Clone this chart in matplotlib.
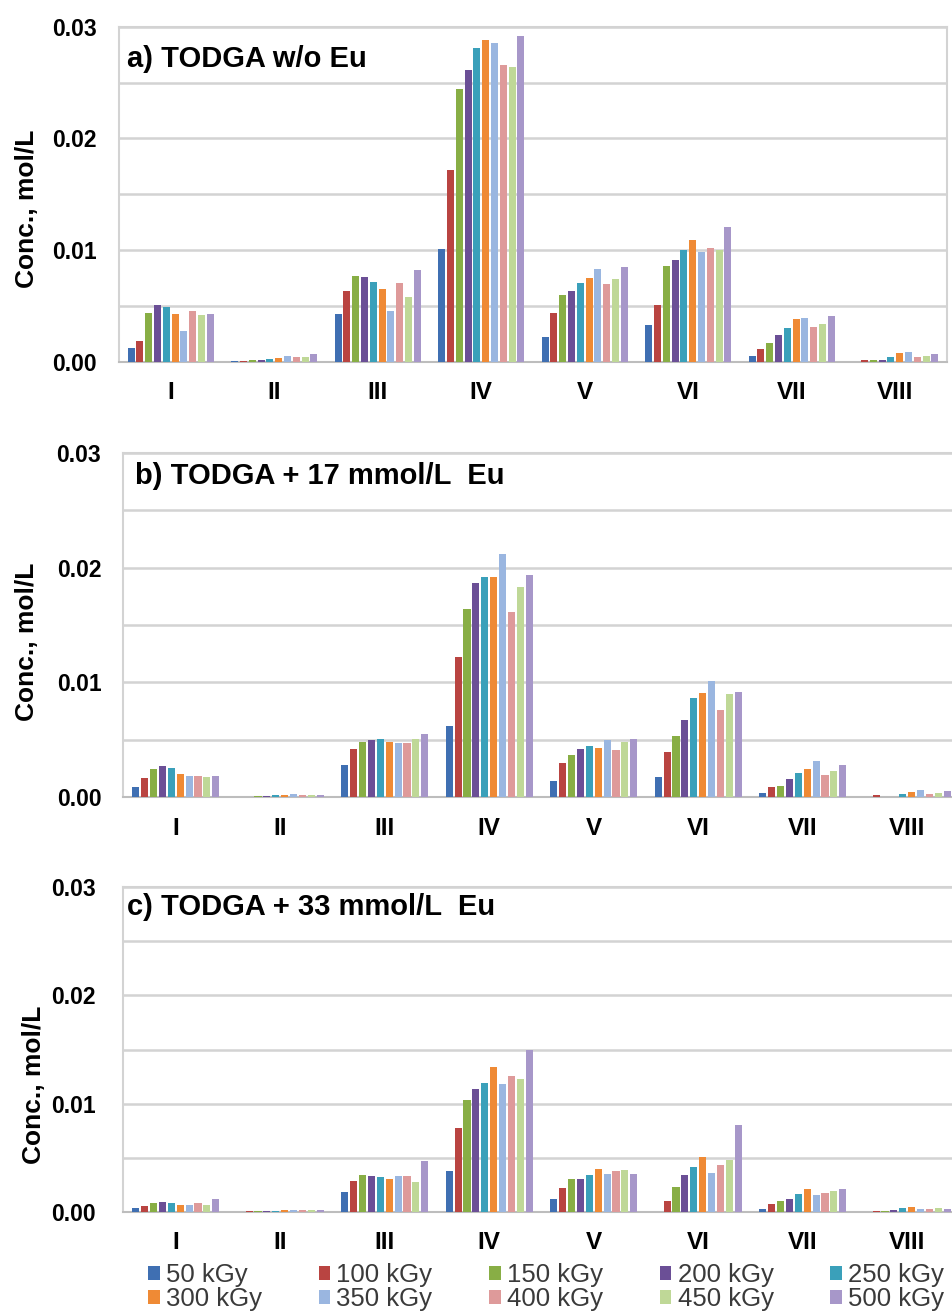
import numpy as np
import matplotlib.pyplot as plt

plt.rcParams['font.family'] = ['Liberation Sans', 'DejaVu Sans']

groups = ['I', 'II', 'III', 'IV', 'V', 'VI', 'VII', 'VIII']
doses = ['50 kGy', '100 kGy', '150 kGy', '200 kGy', '250 kGy',
         '300 kGy', '350 kGy', '400 kGy', '450 kGy', '500 kGy']
colors = ['#3F6FB2', '#B94441', '#88AE45', '#6B4F96', '#3AA0BA',
          '#EF8A35', '#9AB6E0', '#DE9A9A', '#BFD897', '#A797C9']

# concentrations, mol/L (rows: group I..VIII, cols: dose 50..500 kGy)
conc_a = [
    [0.00125, 0.00185, 0.00433, 0.00507, 0.00487, 0.00424, 0.00275, 0.00457, 0.00418, 0.00427],
    [0.00002, 0.00010, 0.00018, 0.00018, 0.00024, 0.00036, 0.00048, 0.00042, 0.00045, 0.00072],
    [0.00427, 0.00633, 0.00770, 0.00755, 0.00716, 0.00648, 0.00454, 0.00704, 0.00576, 0.00824],
    [0.01006, 0.01713, 0.02442, 0.02612, 0.02809, 0.02878, 0.02854, 0.02657, 0.02642, 0.02920],
    [0.00224, 0.00436, 0.00597, 0.00636, 0.00707, 0.00749, 0.00833, 0.00693, 0.00740, 0.00851],
    [0.00325, 0.00504, 0.00860, 0.00910, 0.01003, 0.01090, 0.00979, 0.01015, 0.01003, 0.01203],
    [0.00054, 0.00113, 0.00170, 0.00236, 0.00304, 0.00382, 0.00394, 0.00307, 0.00334, 0.00409],
    [0.00000, 0.00018, 0.00012, 0.00018, 0.00039, 0.00075, 0.00090, 0.00042, 0.00050, 0.00072],
]
conc_b = [
    [0.00093, 0.00165, 0.00250, 0.00276, 0.00255, 0.00200, 0.00186, 0.00183, 0.00174, 0.00186],
    [0.00000, 0.00003, 0.00012, 0.00015, 0.00020, 0.00020, 0.00029, 0.00023, 0.00020, 0.00023],
    [0.00284, 0.00418, 0.00482, 0.00499, 0.00511, 0.00485, 0.00476, 0.00470, 0.00511, 0.00548],
    [0.00621, 0.01224, 0.01636, 0.01868, 0.01921, 0.01921, 0.02115, 0.01616, 0.01834, 0.01935],
    [0.00145, 0.00299, 0.00366, 0.00424, 0.00450, 0.00432, 0.00496, 0.00412, 0.00485, 0.00511],
    [0.00180, 0.00397, 0.00534, 0.00673, 0.00862, 0.00911, 0.01013, 0.00760, 0.00899, 0.00920],
    [0.00041, 0.00087, 0.00099, 0.00157, 0.00212, 0.00250, 0.00319, 0.00194, 0.00232, 0.00279],
    [0.00000, 0.00017, 0.00003, 0.00006, 0.00026, 0.00044, 0.00067, 0.00026, 0.00041, 0.00052],
]
conc_c = [
    [0.00034, 0.00055, 0.00080, 0.00086, 0.00080, 0.00065, 0.00065, 0.00077, 0.00065, 0.00114],
    [0.00000, 0.00003, 0.00003, 0.00006, 0.00006, 0.00018, 0.00015, 0.00018, 0.00018, 0.00018],
    [0.00182, 0.00284, 0.00336, 0.00333, 0.00321, 0.00302, 0.00327, 0.00333, 0.00277, 0.00466],
    [0.00376, 0.00774, 0.01030, 0.01132, 0.01187, 0.01335, 0.01184, 0.01252, 0.01230, 0.01495],
    [0.00117, 0.00222, 0.00299, 0.00302, 0.00339, 0.00395, 0.00348, 0.00376, 0.00385, 0.00345],
    [0.00000, 0.00102, 0.00231, 0.00342, 0.00410, 0.00506, 0.00361, 0.00429, 0.00481, 0.00799],
    [0.00025, 0.00068, 0.00096, 0.00117, 0.00166, 0.00207, 0.00151, 0.00170, 0.00188, 0.00213],
    [0.00000, 0.00003, 0.00003, 0.00018, 0.00037, 0.00046, 0.00022, 0.00025, 0.00031, 0.00028],
]

W, H = 953, 1311
fig = plt.figure(figsize=(W / 100, H / 100), dpi=100)

# (data, title, box in px: left, top, right, bottom, title pos, ylabel pos, ytick pad)
panels = [
    (conc_a, 'a) TODGA w/o Eu', (119, 26.7, 947, 361.7), (127, 59), (27, 209), 16),
    (conc_b, 'b) TODGA + 17 mmol/L  Eu', (123.5, 452.7, 959.5, 797.3), (135, 476), (27, 642), 16),
    (conc_c, 'c) TODGA + 33 mmol/L  Eu', (123.5, 887.3, 959.5, 1211.7), (127, 907), (34, 1085), 20),
]

pitch = 0.085
x = np.arange(len(groups))
bars = []
for data, title, (l, t, r, b), (tx, ty), (lx, ly), pad in panels:
    ax = fig.add_axes([l / W, 1 - b / H, (r - l) / W, (b - t) / H])
    vals = np.array(data)
    bars = []
    for j in range(len(doses)):
        bc = ax.bar(x + (j - 4.5) * pitch, vals[:, j], width=0.068,
                    color=colors[j], label=doses[j], zorder=3)
        bars.append(bc)
    ax.set_xlim(-0.5, 7.5)
    ax.set_ylim(0, 0.03)
    ax.set_yticks([0, 0.01, 0.02, 0.03])
    ax.set_yticklabels(['0.00', '0.01', '0.02', '0.03'], fontweight='bold')
    ax.set_yticks([0.005, 0.015, 0.025], minor=True)
    ax.set_xticks(x)
    ax.set_xticklabels(groups, fontweight='bold')
    ax.tick_params(axis='y', which='both', length=0, labelsize=16.5, pad=pad)
    ax.tick_params(axis='x', length=0, labelsize=17.5, pad=14)
    ax.grid(axis='y', which='both', color='#D3D3D3', lw=1.8, zorder=0)
    for s in ax.spines.values():
        s.set_color('#D3D3D3')
        s.set_linewidth(1.5)
    ax.spines['bottom'].set_color('#BDBDBD')
    ax.text((tx - l) / (r - l), (b - ty) / (b - t), title, transform=ax.transAxes,
            fontsize=21, fontweight='bold', va='center', ha='left', zorder=5)
    fig.text(lx / W, 1 - ly / H, 'Conc., mol/L', rotation=90, fontsize=19,
             fontweight='bold', ha='center', va='center')

order = [0, 5, 1, 6, 2, 7, 3, 8, 4, 9]
fig.legend([bars[i] for i in order], [doses[i] for i in order], ncol=5,
           loc='upper left', bbox_to_anchor=(148 / W, 1 - 1263 / H),
           frameon=False, fontsize=18.5, handlelength=0.45, handleheight=0.45,
           handletextpad=0.25, columnspacing=2.2, labelspacing=0.0,
           borderpad=0, borderaxespad=0, labelcolor='#3A3A3A')

fig.savefig('out.png', dpi=100)
